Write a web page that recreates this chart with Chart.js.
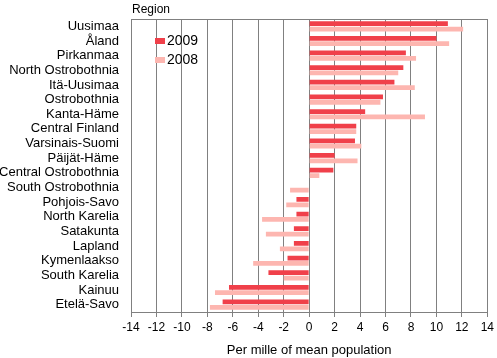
<!DOCTYPE html>
<html lang="en">
<head>
    <meta charset="UTF-8">
    <title>Net migration by region 2008-2009</title>
    <script src="https://cdn.jsdelivr.net/npm/chart.js"></script>
    <style>
        html, body { margin: 0; padding: 0; background: #fff; }
        #wrap { width: 497px; height: 358px; position: relative; }
    </style>
</head>
<body>
<div id="wrap"><canvas id="chart"></canvas></div>
<script>
    // data
    const regions = ['Uusimaa', 'Åland', 'Pirkanmaa', 'North Ostrobothnia', 'Itä-Uusimaa',
        'Ostrobothnia', 'Kanta-Häme', 'Central Finland', 'Varsinais-Suomi', 'Päijät-Häme',
        'Central Ostrobothnia', 'South Ostrobothnia', 'Pohjois-Savo', 'North Karelia',
        'Satakunta', 'Lapland', 'Kymenlaakso', 'South Karelia', 'Kainuu', 'Etelä-Savo'];
    const values2009 = [10.9, 10.0, 7.6, 7.4, 6.7, 5.8, 4.4, 3.7, 3.6, 2.0,
        1.9, 0.0, -1.0, -1.0, -1.2, -1.2, -1.7, -3.2, -6.3, -6.8];
    const values2008 = [12.1, 11.0, 8.4, 7.0, 8.3, 5.6, 9.1, 3.7, 4.1, 3.8,
        0.8, -1.5, -1.8, -3.7, -3.4, -2.3, -4.4, -2.0, -7.4, -7.8];
    const seriesNames = ['2009', '2008'];
    const xMin = -14, xMax = 14, xStep = 2;

    const red = '#f0404a';
    const pink = '#fdb6b0';
    const gridGray = '#808080';
    const fontFamily = 'Arial, "Liberation Sans", sans-serif';

    // "Region" title, legend and the top border of the plot
    const extras = {
        id: 'extras',
        afterDraw(chart) {
            const c = chart.ctx;
            const a = chart.chartArea;
            c.save();
            c.strokeStyle = gridGray;
            c.lineWidth = 1;
            c.beginPath();
            c.moveTo(a.left, a.top + 0.5);
            c.lineTo(a.right, a.top + 0.5);
            c.stroke();

            c.fillStyle = '#000';
            c.font = '12px ' + fontFamily;
            c.textBaseline = 'middle';
            c.textAlign = 'left';
            c.fillText('Region', a.left + 1, 10);

            // legend
            const colors = [red, pink];
            c.font = '14px ' + fontFamily;
            seriesNames.forEach((name, i) => {
                const y = 41 + i * 19;
                c.fillStyle = colors[i];
                c.fillRect(155, y - 3, 10, 6);
                c.fillStyle = '#000';
                c.fillText(name, 167, y);
            });
            c.restore();
        }
    };

    new Chart(document.getElementById('chart'), {
        type: 'bar',
        data: {
            labels: regions,
            datasets: [
                { label: seriesNames[0], data: values2009, backgroundColor: red,
                  categoryPercentage: 0.74, barPercentage: 0.88 },
                { label: seriesNames[1], data: values2008, backgroundColor: pink,
                  categoryPercentage: 0.74, barPercentage: 0.88 }
            ]
        },
        options: {
            indexAxis: 'y',
            responsive: true,
            maintainAspectRatio: false,
            animation: false,
            layout: { padding: { top: 19, right: 8, left: 0, bottom: 0 } },
            plugins: {
                legend: { display: false },
                tooltip: { enabled: false }
            },
            scales: {
                x: {
                    min: xMin, max: xMax,
                    ticks: {
                        stepSize: xStep,
                        color: '#000',
                        font: { family: fontFamily, size: 12 },
                        padding: 3
                    },
                    grid: { color: gridGray, tickLength: 5, tickColor: gridGray },
                    border: { color: gridGray },
                    title: {
                        display: true,
                        text: 'Per mille of mean population',
                        color: '#000',
                        font: { family: fontFamily, size: 13 },
                        padding: { top: 4, bottom: 0 }
                    },
                    afterFit(scale) { scale.height = 46; }
                },
                y: {
                    ticks: {
                        color: '#000',
                        font: { family: fontFamily, size: 13 },
                        autoSkip: false,
                        padding: 4
                    },
                    grid: { display: false },
                    border: { color: gridGray },
                    afterFit(scale) { scale.width = 131; }
                }
            }
        },
        plugins: [extras]
    });
</script>
</body>
</html>
